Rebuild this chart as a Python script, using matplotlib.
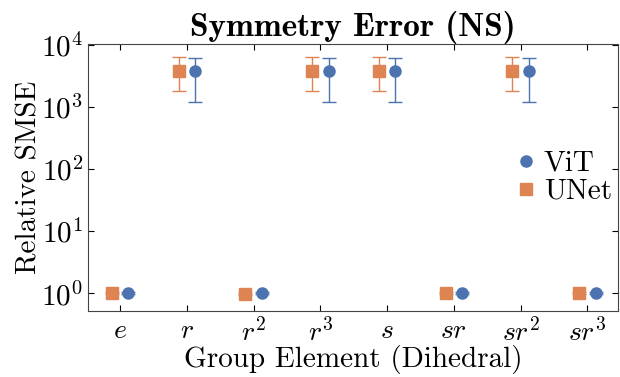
import numpy as np
import matplotlib
matplotlib.use("Agg")
import matplotlib.pyplot as plt

# ── Data ──────────────────────────────────────────────
elements = [r"$e$", r"$r$", r"$r^2$", r"$r^3$", r"$s$", r"$sr$", r"$sr^2$", r"$sr^3$"]

vit_mean = [1.00, 3750, 1.02, 3750, 3750, 1.00, 3750, 1.00]
vit_low = [0.96, 1180, 0.97, 1200, 1200, 0.96, 1180, 0.96]
vit_high = [1.05, 6000, 1.07, 6000, 6000, 1.05, 6000, 1.05]

unet_mean = [1.00, 3700, 0.97, 3700, 3700, 1.00, 3700, 1.00]
unet_low = [0.96, 1800, 0.93, 1800, 1800, 0.96, 1800, 0.96]
unet_high = [1.05, 6300, 1.02, 6300, 6300, 1.05, 6300, 1.05]

BLUE = "#4C72B0"
ORANGE = "#DD8452"

plt.rcParams["font.family"] = "cmr10"
plt.rcParams["mathtext.fontset"] = "cm"
plt.rcParams["axes.formatter.use_mathtext"] = True
plt.rcParams["font.size"] = 21

x = np.arange(len(elements))
off = 0.125

fig, ax = plt.subplots(figsize=(6.2, 3.77), dpi=100)
fig.subplots_adjust(left=0.142, right=0.997, top=0.883, bottom=0.175)

def draw(xpos, mean, low, high, color, marker, label):
    mean = np.array(mean)
    err = np.vstack([mean - np.array(low), np.array(high) - mean])
    ax.errorbar(xpos, mean, yerr=err, fmt="none", ecolor=color,
                elinewidth=1, capsize=5, capthick=1)
    ax.plot(xpos, mean, marker, color=color, ms=8, label=label)

draw(x + off, vit_mean, vit_low, vit_high, BLUE, "o", "ViT")
draw(x - off, unet_mean, unet_low, unet_high, ORANGE, "s", "UNet")

ax.set_yscale("log")
ax.set_ylim(0.52, 1.02e4)
ax.set_yticks([1, 10, 100, 1000, 10000])
ax.set_xlim(-0.48, 7.46)
ax.set_xticks(x)
ax.set_xticklabels(elements)
ax.tick_params(which="both", direction="in", top=True, right=True)
ax.tick_params(which="major", length=4, width=0.8)
ax.tick_params(which="minor", length=2, width=0.6)
ax.tick_params(axis="x", pad=5, labelsize=20)
for sp in ax.spines.values():
    sp.set_color("#444444")

ax.set_title(r"Symmetry Error (NS)", fontfamily="cmb10", fontsize=24, pad=4)
ax.set_xlabel("Group Element (Dihedral)", labelpad=-1)
ax.set_ylabel("Relative SMSE", labelpad=-1)

ax.legend(loc="center right", frameon=False, handlelength=0.6,
          handletextpad=0.3, borderaxespad=0.0, labelspacing=0.05,
          bbox_to_anchor=(1.01, 0.50))

plt.savefig("out.png", dpi=100)
